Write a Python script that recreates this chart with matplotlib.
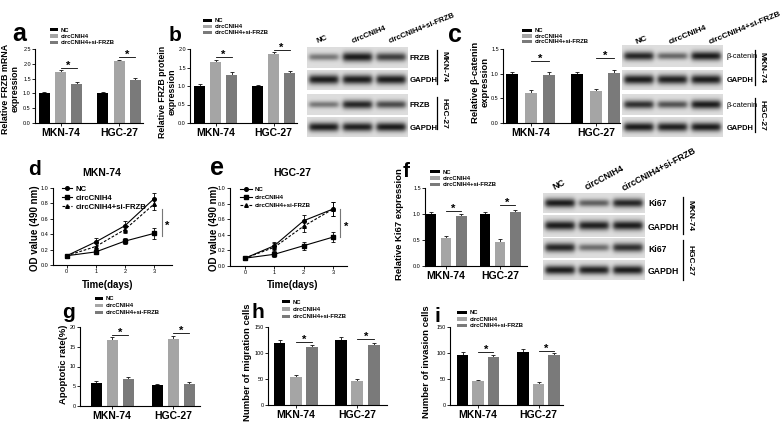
import numpy as np
import matplotlib
matplotlib.use('Agg')
import matplotlib.pyplot as plt
from matplotlib.transforms import Affine2D
from matplotlib.ticker import FormatStrFormatter

plt.rcParams['font.family'] = ['Liberation Sans', 'DejaVu Sans']
plt.rcParams['axes.linewidth'] = 0.8

# ---- data -------------------------------------------------------------
cell_lines = ['MKN-74', 'HGC-27']
groups = ['NC', 'circCNIH4', 'circCNIH4+si-FRZB']
days = [0, 1, 2, 3]

# bar charts: one row per cell line, columns follow `groups`
frzb_mrna = [[1.00, 1.73, 1.31], [1.00, 2.08, 1.45]]
frzb_mrna_sd = [[0.04, 0.05, 0.06], [0.05, 0.06, 0.06]]
frzb_protein = [[0.99, 1.65, 1.31], [0.99, 1.86, 1.35]]
frzb_protein_sd = [[0.06, 0.06, 0.06], [0.05, 0.06, 0.06]]
bcat = [[1.00, 0.61, 0.98], [1.00, 0.64, 1.02]]
bcat_sd = [[0.04, 0.05, 0.05], [0.04, 0.05, 0.06]]
ki67 = [[1.00, 0.54, 0.955], [1.00, 0.47, 1.04]]
ki67_sd = [[0.04, 0.04, 0.05], [0.04, 0.04, 0.04]]
apoptosis = [[5.9, 16.6, 6.9], [5.2, 16.9, 5.6]]
apoptosis_sd = [[0.4, 0.8, 0.5], [0.4, 0.7, 0.4]]
migration = [[120, 53, 112], [125, 46, 116]]
migration_sd = [[5, 4, 4], [5, 4, 4]]
invasion = [[97, 46, 92], [102, 40, 96]]
invasion_sd = [[5, 3, 4], [5, 4, 4]]

# significance bar heights (per cell line)
sig_mrna = [1.86, 2.23]
sig_protein = [1.78, 1.97]
sig_bcat = [1.26, 1.32]
sig_ki67 = [1.06, 1.17]
sig_apop = [18.0, 18.5]
sig_mig = [121, 126]
sig_inv = [101, 104]

# CCK-8 curves, rows follow `groups`
od_mkn = [[0.12, 0.30, 0.51, 0.86], [0.12, 0.17, 0.31, 0.41], [0.12, 0.24, 0.46, 0.79]]
od_mkn_sd = [[0.01, 0.05, 0.06, 0.08], [0.01, 0.03, 0.04, 0.07], [0.01, 0.04, 0.05, 0.07]]
od_hgc = [[0.10, 0.26, 0.58, 0.73], [0.10, 0.15, 0.26, 0.37], [0.10, 0.24, 0.51, 0.73]]
od_hgc_sd = [[0.01, 0.05, 0.07, 0.09], [0.01, 0.03, 0.05, 0.06], [0.01, 0.05, 0.07, 0.09]]

# western blot band strength (0-1) for lanes NC / circCNIH4 / +si-FRZB
blot_b_rows = ['FRZB', 'GAPDH', 'FRZB', 'GAPDH']
blot_b = [[0.50, 0.95, 0.78], [0.95, 0.95, 0.95], [0.50, 0.90, 0.72], [0.95, 0.93, 0.95]]
blot_c_rows = ['β-catenin', 'GAPDH', 'β-catenin', 'GAPDH']
blot_c = [[0.90, 0.58, 0.95], [0.95, 0.93, 0.95], [0.85, 0.68, 0.95], [0.95, 0.93, 0.95]]
blot_f_rows = ['Ki67', 'GAPDH', 'Ki67', 'GAPDH']
blot_f = [[0.95, 0.62, 0.90], [0.95, 0.93, 0.95], [0.90, 0.55, 0.85], [0.95, 0.93, 0.95]]

# ---- layout helpers (pixel coordinates, origin top-left) --------------
W, H = 784, 426
fig = plt.figure(figsize=(W / 100, H / 100), dpi=100)
T = Affine2D().scale(1 / W, -1 / H).translate(0, 1) + fig.transFigure

bar_colors = ['#000000', '#a5a5a5', '#7a7a7a']
line_styles = ['-', '-', (0, (2.5, 1.5))]
markers = ['o', 's', '^']


def px_ax(l, t, r, b):
    return fig.add_axes([l / W, 1 - b / H, (r - l) / W, (b - t) / H])


def style_ax(ax):
    for s in ('top', 'right'):
        ax.spines[s].set_visible(False)
    ax.tick_params(length=2, width=0.6, pad=1, labelsize=4)


def put_legend(ax, x, y, step, hw, fs=4.2):
    fs_px = fs * 100 / 72
    ax.legend(loc='upper left', bbox_to_anchor=(x, y), bbox_transform=T,
              frameon=False, borderpad=0, borderaxespad=0,
              prop={'weight': 'bold', 'size': fs},
              handlelength=hw / fs_px, handleheight=0.6, handletextpad=0.5,
              labelspacing=(step - 1.12 * fs_px) / fs_px)


def ftext(x, y, s, **kw):
    kw.setdefault('fontweight', 'bold')
    return fig.text(x, y, s, transform=T, **kw)


def bar_panel(box, vals, sd, sig, ytop, ystep, fmt, xlim, off, bw, leg):
    ax = px_ax(*box)
    style_ax(ax)
    x = np.arange(len(cell_lines))
    for j, name in enumerate(groups):
        h = [v[j] for v in vals]
        e = [v[j] for v in sd]
        xx = x + (j - 1) * off
        ax.errorbar(xx, h, yerr=[np.zeros(len(h)), e], fmt='none', ecolor='#111111',
                    elinewidth=0.6, capsize=1.6, capthick=0.6, zorder=1)
        ax.bar(xx, h, bw, color=bar_colors[j], label=name, zorder=2)
    for g in range(len(cell_lines)):
        ax.plot([g, g + off], [sig[g]] * 2, color='black', lw=0.6, clip_on=False)
        ax.annotate('*', (g + off / 2, sig[g]), xytext=(0, -0.5), textcoords='offset points',
                    ha='center', va='baseline', fontsize=8, fontweight='bold',
                    annotation_clip=False)
    ax.set_xlim(*xlim)
    ax.set_ylim(0, ytop)
    ax.set_yticks(np.arange(0, ytop + ystep / 2, ystep))
    ax.yaxis.set_major_formatter(FormatStrFormatter(fmt))
    ax.set_xticks(x)
    ax.set_xticklabels(cell_lines, fontsize=7.5, fontweight='bold')
    ax.tick_params(axis='x', pad=1.5)
    put_legend(ax, *leg)
    return ax


def line_panel(box, series, series_sd, xlim, sig_x, sig_lo, sig_hi, leg):
    ax = px_ax(*box)
    style_ax(ax)
    for j, name in enumerate(groups):
        ax.errorbar(days, series[j], yerr=series_sd[j], fmt='none', ecolor='black',
                    elinewidth=0.6, capsize=1.5, capthick=0.6)
        ax.plot(days, series[j], color='black', lw=0.8, ls=line_styles[j],
                marker=markers[j], ms=2.6, label=name)
    ax.plot([sig_x] * 2, [sig_lo, sig_hi], color='#777777', lw=0.8, clip_on=False)
    ax.annotate('*', (sig_x + 0.2, (sig_lo + sig_hi) / 2), xytext=(0, -4.5),
                textcoords='offset points', ha='center', va='baseline', fontsize=8,
                fontweight='bold', annotation_clip=False)
    ax.set_xlim(*xlim)
    ax.set_ylim(0, 1.0)
    ax.set_yticks(np.arange(0, 1.05, 0.2))
    ax.yaxis.set_major_formatter(FormatStrFormatter('%.1f'))
    ax.set_xticks(days)
    put_legend(ax, *leg)
    return ax


def band_image(w, h, levels, scale=4):
    xs = (np.arange(w * scale) + 0.5) / scale
    ys = (np.arange(h * scale) + 0.5) / scale
    X, Y = np.meshgrid(xs, ys)
    img = np.full(X.shape, 0.87)
    lane = w / 3
    for k, lv in enumerate(levels):
        cx = lane * (k + 0.5)
        edge = 1 / (1 + np.exp((np.abs(X - cx) - lane * 0.43) / 1.3))
        sy = 1.4 + 1.9 * lv
        prof = np.exp(-((Y - h * 0.5) ** 2) / (2 * sy ** 2))
        img = img - 0.8 * lv * edge * prof
    return img


def blot(x0, x1, rows, levels, names, label_x, label_fs, side_x, side_spans,
         col_anchors, rot, col_fs):
    for (t, b), lv, nm in zip(rows, levels, names):
        ax = px_ax(x0, t, x1, b)
        ax.imshow(band_image(x1 - x0, b - t, lv), cmap='gray', vmin=0, vmax=1,
                  aspect='auto', interpolation='bilinear')
        ax.set_axis_off()
        weight = 'normal' if nm.startswith('β') else 'bold'
        ftext(label_x, (t + b) / 2 + 1, nm, fontsize=label_fs, ha='left', va='center',
              fontweight=weight)
    for (t, b), cl in zip(side_spans, cell_lines):
        fig.add_artist(plt.Line2D([side_x, side_x], [t, b], transform=T, color='black', lw=0.9))
        ftext(side_x + 7, (t + b) / 2, cl, fontsize=6, rotation=-90, ha='center', va='center')
    for (ax_, ay), g in zip(col_anchors, groups):
        ftext(ax_, ay, g, fontsize=col_fs, rotation=rot, rotation_mode='anchor',
              ha='left', va='bottom')


# ---- panel a / b / c --------------------------------------------------
bar_panel((35, 49, 143, 123), frzb_mrna, frzb_mrna_sd, sig_mrna, 2.5, 0.5, '%.1f',
          (-0.436, 1.41), 0.274, 0.188, (50, 27.5, 8, 8))
ftext(10, 89, 'Relative FRZB mRNA\nexpression', fontsize=6.4, rotation=90, ha='center',
      va='center', multialignment='center', linespacing=1.1)

bar_panel((190, 49, 297, 123), frzb_protein, frzb_protein_sd, sig_protein, 2.0, 0.5, '%.1f',
          (-0.44, 1.405), 0.276, 0.19, (203, 18.5, 7.5, 9))
ftext(167, 92, 'Relative FRZB protein\nexpression', fontsize=6.3, rotation=90, ha='center',
      va='center', multialignment='center', linespacing=1.1)
blot(307, 408, [(47, 68), (70, 90), (94, 115), (117, 137)], blot_b, blot_b_rows, 410, 5.6,
     437, [(50, 84), (97, 129)], [(318, 45), (353, 45), (390, 45)], 22, 5.6)

bar_panel((503, 49, 620, 123), bcat, bcat_sd, sig_bcat, 1.5, 0.5, '%.1f',
          (-0.43, 1.37), 0.285, 0.185, (522, 28.5, 7, 10))
ftext(480, 82, 'Relative β-catenin\nexpression', fontsize=6.8, rotation=90, ha='center',
      va='center', multialignment='center', linespacing=1.05)
blot(622, 723, [(45, 67), (70, 90), (94, 115), (117, 137)], blot_c, blot_c_rows, 727, 5.4,
     755, [(50, 85), (98, 132)], [(637, 46), (670, 46), (710, 46)], 22, 6)

# ---- panel d / e ------------------------------------------------------
line_panel((53, 188, 172, 265), od_mkn, od_mkn_sd, (-0.47, 3.62), 3.27, 0.38, 0.73,
           (62, 185.5, 10.5, 10, 5.6))
ftext(35, 228, 'OD value (490 nm)', fontsize=7, rotation=90, ha='center', va='center')
ftext(102, 173, 'MKN-74', fontsize=7.5, ha='center', va='center')
ftext(108, 285, 'Time(days)', fontsize=7, ha='center', va='center')

line_panel((230, 188, 347, 266), od_hgc, od_hgc_sd, (-0.51, 3.48), 3.24, 0.37, 0.73,
           (240, 186.5, 10, 12, 4.4))
ftext(214, 228, 'OD value (490 nm)', fontsize=7, rotation=90, ha='center', va='center')
ftext(292, 173, 'HGC-27', fontsize=7.5, ha='center', va='center')
ftext(293, 285, 'Time(days)', fontsize=7, ha='center', va='center')

# ---- panel f ----------------------------------------------------------
bar_panel((425, 188, 527, 266), ki67, ki67_sd, sig_ki67, 1.5, 0.5, '%.1f',
          (-0.39, 1.5), 0.28, 0.2, (430, 169.5, 8, 10))
ftext(400, 224, 'Relative Ki67 expression', fontsize=6.8, rotation=90, ha='center', va='center')
blot(543, 645, [(193, 213), (215, 237), (238, 258), (260, 280)], blot_f, blot_f_rows, 648, 6.2,
     683, [(197, 234), (240, 280)], [(555, 192), (588, 192), (625, 193)], 28, 6.5)

# ---- panel g / h / i --------------------------------------------------
bar_panel((80, 327, 200, 406), apoptosis, apoptosis_sd, sig_apop, 20, 5, '%d',
          (-0.525, 1.44), 0.262, 0.18, (95, 296.5, 8.5, 8))
ftext(64, 364, 'Apoptotic rate(%)', fontsize=6.8, rotation=90, ha='center', va='center')

bar_panel((268, 327, 387, 405), migration, migration_sd, sig_mig, 150, 50, '%d',
          (-0.455, 1.48), 0.268, 0.195, (282, 299.5, 9, 8))
ftext(248, 362, 'Number of migration cells', fontsize=6.8, rotation=90, ha='center', va='center')

bar_panel((450, 327, 563, 405), invasion, invasion_sd, sig_inv, 150, 50, '%d',
          (-0.463, 1.405), 0.256, 0.19, (457, 310.5, 8, 10))
ftext(427, 362, 'Number of invasion cells', fontsize=6.8, rotation=90, ha='center', va='center')

# ---- panel letters ----------------------------------------------------
for s, x, y, fs in [('a', 12, 41, 18), ('b', 169, 41, 15), ('c', 448, 42, 18),
                    ('d', 28, 175, 15), ('e', 210, 175, 18), ('f', 403, 177, 15),
                    ('g', 62, 318, 15), ('h', 252, 318, 15), ('i', 435, 322, 15)]:
    ftext(x, y, s, fontsize=fs, ha='left', va='baseline')

fig.savefig('out.png', dpi=100)
